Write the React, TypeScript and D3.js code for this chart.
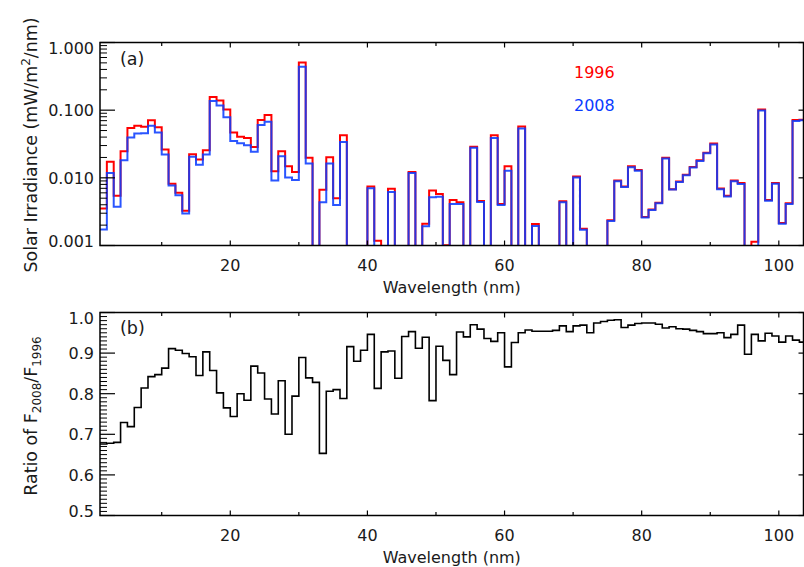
import React, { useEffect, useRef } from 'react';
import * as d3 from 'd3';

// 1 nm bins, value belongs to [w, w+1]
const wavelengths = d3.range(1, 104);

const flux1996 = [
  0.00353, 0.01725, 0.00545, 0.0248, 0.0543, 0.0588, 0.0568, 0.0708, 0.0557, 0.0263,
  0.00816, 0.00604, 0.00325, 0.0224, 0.0187, 0.0255, 0.1566, 0.139, 0.102, 0.0469,
  0.0403, 0.0389, 0.0285, 0.0716, 0.0851, 0.0125, 0.0248, 0.0148, 0.0122, 0.505,
  0.0198, 0, 0.00664, 0.0202, 0.00499, 0.0427, 0, 0, 0, 0.00743,
  0.00118, 0, 0.00687, 0, 0, 0.0122, 0, 0.0021, 0.00648, 0.00578,
  0.00101, 0.0047, 0.00434, 0, 0.0289, 0.00454, 0, 0.0427, 0.0041, 0.0148,
  0, 0.0576, 0, 0.00208, 0, 0, 0, 0.00449, 0, 0.0105,
  0.00177, 0, 0, 0, 0.00236, 0.00914, 0.00743, 0.0148, 0.013, 0.00264,
  0.00341, 0.00428, 0.0198, 0.0068, 0.00883, 0.0111, 0.0145, 0.0182, 0.0235, 0.0321,
  0.00694, 0.00545, 0.00914, 0.00836, 0, 0.00114, 0.102, 0.0047, 0.00836, 0.00215,
  0.0042, 0.0716, 0.0723,
];

const flux2008 = [
  0.00173, 0.0118, 0.00373, 0.0182, 0.0394, 0.0453, 0.0457, 0.0588, 0.0469, 0.0222,
  0.00769, 0.00553, 0.00297, 0.0205, 0.01555, 0.0222, 0.1364, 0.117, 0.0786, 0.0351,
  0.0324, 0.0303, 0.0243, 0.0603, 0.0675, 0.00914, 0.0209, 0.0101, 0.0093, 0.44,
  0.01626, 0, 0.00434, 0.0163, 0.00396, 0.0339, 0, 0, 0, 0.00703,
  0, 0, 0.00619, 0, 0, 0.0118, 0, 0.00192, 0.00516, 0.00527,
  0, 0.0041, 0.0041, 0, 0.0279, 0.00439, 0, 0.0389, 0.00396, 0.01277,
  0, 0.0538, 0, 0.00194, 0, 0, 0, 0.00434, 0, 0.0101,
  0.00171, 0, 0, 0, 0.0023, 0.0089, 0.0073, 0.0143, 0.0127, 0.0026,
  0.00335, 0.0042, 0.0193, 0.0067, 0.0087, 0.0109, 0.0142, 0.0178, 0.023, 0.031,
  0.0068, 0.0053, 0.0089, 0.0081, 0, 0, 0.0986, 0.0046, 0.0082, 0.0021,
  0.0041, 0.0689, 0.0708,
];

const ratio = [
  0.676, 0.678, 0.68, 0.729, 0.719, 0.766, 0.814, 0.842, 0.847, 0.863,
  0.911, 0.907, 0.899, 0.891, 0.845, 0.903, 0.857, 0.802, 0.765, 0.744,
  0.8, 0.784, 0.868, 0.851, 0.787, 0.75, 0.832, 0.7, 0.794, 0.889,
  0.839, 0.828, 0.653, 0.806, 0.81, 0.788, 0.916, 0.88, 0.907, 0.946,
  0.813, 0.903, 0.905, 0.838, 0.941, 0.953, 0.912, 0.939, 0.783, 0.917,
  0.882, 0.847, 0.952, 0.94, 0.97, 0.959, 0.936, 0.929, 0.95, 0.866,
  0.926, 0.95, 0.957, 0.954, 0.954, 0.954, 0.956, 0.967, 0.953, 0.967,
  0.969, 0.95, 0.974, 0.978, 0.981, 0.982, 0.963, 0.969, 0.973, 0.974,
  0.974, 0.971, 0.962, 0.965, 0.96, 0.959, 0.956, 0.953, 0.948, 0.948,
  0.95, 0.938, 0.946, 0.969, 0.897, 0.946, 0.93, 0.949, 0.942, 0.927,
  0.942, 0.932, 0.927,
];

const xMajor = [20, 40, 60, 80, 100];
const xMinor = [10, 30, 50, 70, 90];
const logMajor = [1, 0.1, 0.01, 0.001];
const logLabels = ['1.000', '0.100', '0.010', '0.001'];
const ratioMajor = [1.0, 0.9, 0.8, 0.7, 0.6, 0.5];
const ratioLabels = ['1.0', '0.9', '0.8', '0.7', '0.6', '0.5'];

const FONT = "'DejaVu Sans', sans-serif";
const RED = '#ff0000';
const BLUE = '#0a3cff';
const INK = '#1a1a1a';

const App = () => {
  const svgRef = useRef(null);

  useEffect(() => {
    const svg = d3.select(svgRef.current);
    svg.selectAll('*').remove();

    const left = 100, right = 803.5;
    const panelA = { top: 42.5, bottom: 245.5 };
    const panelB = { top: 312.5, bottom: 515.5 };

    const x = d3.scaleLinear().domain([1, 103.6]).range([left, right]);
    const yA = d3.scaleLog().domain([0.001, 1]).range([panelA.bottom, panelA.top]);
    const yB = d3.scaleLinear().domain([0.5, 1.0]).range([panelB.bottom, panelB.top]);

    const defs = svg.append('defs');
    [['clipA', panelA], ['clipB', panelB]].forEach(([id, p]: any) => {
      defs.append('clipPath').attr('id', id)
        .append('rect')
        .attr('x', left).attr('y', p.top)
        .attr('width', right - left).attr('height', p.bottom - p.top);
    });

    const steps = (vals) => {
      const pts = wavelengths.map((w, i) => [w, vals[i]]);
      pts.push([wavelengths[wavelengths.length - 1] + 1, vals[vals.length - 1]]);
      return pts;
    };

    const lineA = d3.line()
      .x(d => x(d[0]))
      .y(d => yA(Math.max(d[1], 0.0008)))
      .curve(d3.curveStepAfter);

    const lineB = d3.line()
      .x(d => x(d[0]))
      .y(d => yB(d[1]))
      .curve(d3.curveStepAfter);

    // panel (a)
    svg.append('path')
      .datum(steps(flux1996))
      .attr('clip-path', 'url(#clipA)')
      .attr('fill', 'none')
      .attr('stroke', RED)
      .attr('stroke-width', 2)
      .attr('d', lineA);

    svg.append('path')
      .datum(steps(flux2008))
      .attr('clip-path', 'url(#clipA)')
      .attr('fill', 'none')
      .attr('stroke', BLUE)
      .attr('stroke-opacity', 0.87)
      .attr('stroke-width', 2)
      .attr('d', lineA);

    // panel (b)
    svg.append('path')
      .datum(steps(ratio))
      .attr('clip-path', 'url(#clipB)')
      .attr('fill', 'none')
      .attr('stroke', '#000')
      .attr('stroke-width', 1.6)
      .attr('d', lineB);

    const drawFrame = (p, y, major, labels, minor) => {
      const g = svg.append('g');
      g.append('rect')
        .attr('x', left).attr('y', p.top)
        .attr('width', right - left).attr('height', p.bottom - p.top)
        .attr('fill', 'none').attr('stroke', '#000').attr('stroke-width', 1.5);

      // x ticks, bottom and top
      const xt = [...xMajor.map(v => [v, 5]), ...xMinor.map(v => [v, 3.5])];
      xt.forEach(([v, len]) => {
        g.append('line').attr('x1', x(v)).attr('x2', x(v))
          .attr('y1', p.bottom).attr('y2', p.bottom - len)
          .attr('stroke', '#000').attr('stroke-width', 1.2);
        g.append('line').attr('x1', x(v)).attr('x2', x(v))
          .attr('y1', p.top).attr('y2', p.top + len)
          .attr('stroke', '#000').attr('stroke-width', 1.2);
      });

      // y ticks
      major.forEach(v => {
        g.append('line').attr('x1', left).attr('x2', left + 15)
          .attr('y1', y(v)).attr('y2', y(v))
          .attr('stroke', '#000').attr('stroke-width', 1.2);
        g.append('line').attr('x1', right).attr('x2', right - 5)
          .attr('y1', y(v)).attr('y2', y(v))
          .attr('stroke', '#000').attr('stroke-width', 1.2);
      });
      minor.forEach(v => {
        g.append('line').attr('x1', left).attr('x2', left + 7)
          .attr('y1', y(v)).attr('y2', y(v))
          .attr('stroke', '#000').attr('stroke-width', 1);
      });

      major.forEach((v, i) => {
        const cy = Math.min(Math.max(y(v), p.top + 5), p.bottom - 5);
        g.append('text')
          .attr('x', 94).attr('y', cy + 6)
          .attr('text-anchor', 'end')
          .attr('fill', INK)
          .style('font-family', FONT).style('font-size', '16px')
          .text(labels[i]);
      });

      xMajor.forEach(v => {
        g.append('text')
          .attr('x', x(v)).attr('y', p.bottom + 25)
          .attr('text-anchor', 'middle')
          .attr('fill', INK)
          .style('font-family', FONT).style('font-size', '16px')
          .text(v);
      });

      g.append('text')
        .attr('x', (left + right) / 2).attr('y', p.bottom + 47)
        .attr('text-anchor', 'middle')
        .attr('fill', INK)
        .style('font-family', FONT).style('font-size', '16px')
        .text('Wavelength (nm)');
    };

    const logMinor = [];
    [0.001, 0.01, 0.1].forEach(d => {
      for (let k = 2; k <= 9; k++) logMinor.push(d * k);
    });
    const ratioMinor = d3.range(51, 100).filter(k => k % 10 !== 0).map(k => k / 100);

    drawFrame(panelA, yA, logMajor, logLabels, logMinor);
    drawFrame(panelB, yB, ratioMajor, ratioLabels, ratioMinor);

    // y titles
    svg.append('text')
      .attr('transform', `translate(37,${(panelA.top + panelA.bottom) / 2 + 1}) rotate(-90)`)
      .attr('text-anchor', 'middle')
      .attr('fill', INK)
      .style('font-family', FONT).style('font-size', '17.4px')
      .call(t => {
        t.append('tspan').text('Solar Irradiance (mW/m');
        t.append('tspan').attr('dy', -7).style('font-size', '12px').text('2');
        t.append('tspan').attr('dy', 7).text('/nm)');
      });

    svg.append('text')
      .attr('transform', `translate(37,${(panelB.top + panelB.bottom) / 2 + 2}) rotate(-90)`)
      .attr('text-anchor', 'middle')
      .attr('fill', INK)
      .style('font-family', FONT).style('font-size', '17.4px')
      .call(t => {
        t.append('tspan').text('Ratio of F');
        t.append('tspan').attr('dy', 4).style('font-size', '12px').text('2008');
        t.append('tspan').attr('dy', -4).text('/F');
        t.append('tspan').attr('dy', 4).style('font-size', '12px').text('1996');
      });

    // panel tags + legend
    svg.append('text').attr('x', 120).attr('y', 65)
      .attr('fill', INK)
      .style('font-family', FONT).style('font-size', '17.5px').text('(a)');
    svg.append('text').attr('x', 120).attr('y', 334)
      .attr('fill', INK)
      .style('font-family', FONT).style('font-size', '17.5px').text('(b)');

    svg.append('text').attr('x', 574).attr('y', 78)
      .style('font-family', FONT).style('font-size', '16px')
      .attr('fill', RED).text('1996');
    svg.append('text').attr('x', 574).attr('y', 111)
      .style('font-family', FONT).style('font-size', '16px')
      .attr('fill', BLUE).text('2008');
  }, []);

  return (
    <svg
      ref={svgRef}
      width={804}
      height={567}
      style={{ position: 'absolute', left: 0, top: 0, background: '#fff' }}
    />
  );
};

export default App;
